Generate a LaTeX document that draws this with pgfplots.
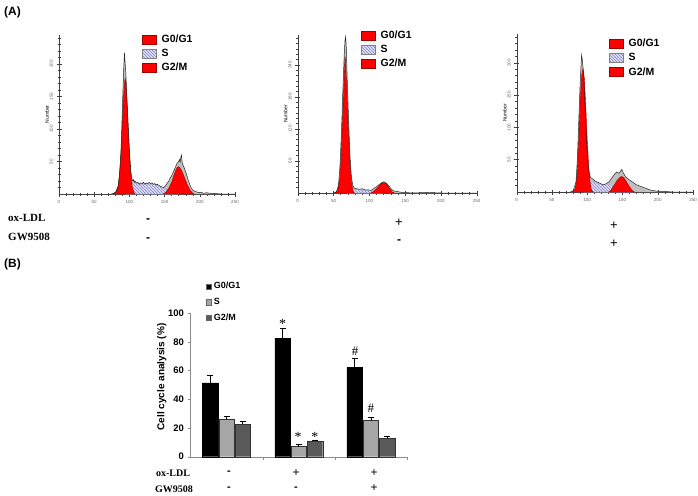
\documentclass[border=0pt]{standalone}
\usepackage{pgfplots}
\pgfplotsset{compat=1.18}
\usepackage{pgfplotstable}
\usepackage{fontspec}
\setmainfont{Liberation Sans}
\newfontfamily\tnr{Liberation Serif}
\usetikzlibrary{patterns}
\definecolor{lav}{HTML}{E2E2F4}
\definecolor{hatch}{HTML}{7E7EC8}
\definecolor{hred}{HTML}{FF0000}
\definecolor{hredd}{HTML}{A00000}
\definecolor{sgray}{HTML}{A6A6A6}
\definecolor{dgray}{HTML}{595959}

% ---------- histogram data ----------
\pgfplotstableread{
x y
74 0
78 1
81 4
84 12
86 30
88 65
89 95
90 130
91 165
92 195
93 217
94 200
95 185
96 160
97 135
98 110
99 88
100 65
101 48
102 35
103 27
104 22
105 20
106 22
107 18
108 20
110 17
112 18
114 15
116 17
118 16
120 18
122 15
124 17
126 16
128 18
130 16
132 17
134 15
136 16
138 14
140 15
142 13
144 12
146 11
148 10
150 11
152 14
154 17
156 20
158 25
160 28
162 33
164 38
166 43
168 48
170 50
171 53
172 49
173 56
174 60
175 48
176 45
178 40
180 34
182 27
184 20
186 14
188 9
190 6
193 4
196 3
199 2
202 3
205 1
210 2
215 1
220 1
230 0
240 0
250 0
}\totA
\pgfplotstableread{
x y
94 0
97 8
100 15
103 18
106 17
110 16
115 15
120 15
125 15
130 15
135 14
140 13
145 11
150 8
155 5
160 3
165 1
170 0
}\sA
\pgfplotstableread{
x y
78 0
81 3
84 12
86 30
88 62
90 110
92 155
93 172
94 178
95 172
96 155
98 110
100 65
102 32
104 12
106 3
108 0
}\gA
\pgfplotstableread{
x y
148 0
152 3
156 9
160 18
163 28
166 37
168 41
170 42
172 40
175 34
178 26
182 15
186 6
190 1
192 0
}\mA

\pgfplotstableread{
x y
50 0
54 2
57 15
59 50
61 110
63 190
65 260
66 285
67 293
68 270
69 220
71 140
73 70
75 30
77 14
79 9
82 8
86 7
90 8
94 6
98 6
102 5
105 7
108 10
111 13
114 16
117 19
120 21
122 20
125 17
128 12
131 7
134 4
138 3
142 2
146 1
150 1
160 0
180 1
200 0
250 0
}\totB
\pgfplotstableread{
x y
70 0
74 5
78 7
85 6
95 5
105 4
112 2
118 0
}\sB
\pgfplotstableread{
x y
52 0
56 5
59 30
61 80
63 150
65 220
66 256
67 245
69 180
71 110
73 55
75 20
77 5
79 0
}\gB
\pgfplotstableread{
x y
102 0
106 3
110 8
114 14
117 18
120 19.5
123 18
126 13
129 7
132 2
135 0
}\mB

\pgfplotstableread{
x y
76 0
80 2
84 15
86 50
88 110
90 170
92 212
93 205
95 180
97 130
99 80
101 45
103 28
105 22
108 20
111 17
115 15
119 13
123 11
127 13
131 16
135 22
139 28
142 31
145 29
147 32
149 35
151 30
154 24
158 20
162 17
166 14
170 11
175 9
180 7
185 5
190 3
195 2
200 1
210 1
220 0
250 0
}\totC
\pgfplotstableread{
x y
95 0
98 10
102 17
106 16
112 14
120 12
128 12
135 10
142 6
150 3
158 1
165 0
}\sC
\pgfplotstableread{
x y
79 0
83 5
86 30
88 80
90 140
92 180
94 191
96 175
98 130
100 80
102 40
104 15
106 3
108 0
}\gC
\pgfplotstableread{
x y
131 0
135 5
139 12
143 19
147 23
149 24
152 22
156 15
160 8
164 2
167 0
}\mC

% ---------- bar data ----------
\pgfplotstableread{
x y e
0 51.4 5.3
1 82.5 7.0
2 62.0 6.3
}\barG
\pgfplotstableread{
x y e
0 26.3 2.1
1 7.0 1.6
2 25.1 2.3
}\barS
\pgfplotstableread{
x y e
0 22.6 1.8
1 10.9 0.7
2 13.0 1.4
}\barM

\pgfplotsset{
  hist/.style={
    scale only axis, axis lines=left, axis line style={-, black!75},
    xmin=0, xmax=250, ymin=0, enlargelimits=false, clip=false,
    xtick={0,50,...,250}, minor xtick={10,20,...,240},
    tick align=center, major tick length=5pt, minor tick length=3pt,
    tick style={black!75, line width=0.4pt},
    /pgf/number format/assume math mode=true,
    ticklabel style={font=\fontsize{4.5}{5}\selectfont, text=black!60},
    yticklabel style={rotate=90},
    ylabel={Number},
    ylabel style={font=\fontsize{5}{6}\selectfont, anchor=center},
    legend image code/.code={\draw[##1] (0pt,-4.5pt) rectangle (14pt,4.5pt);},
    legend cell align=left,
    legend style={draw=none, fill=none, font=\fontsize{10.5}{12}\selectfont\bfseries,
      anchor=north west, inner sep=0pt, row sep=1.2pt,
      /tikz/every odd column/.append style={column sep=3pt}},
  },
}

\newcommand{\histbody}[4]{%
  \addplot[fill=black!25, draw=none, forget plot] table {#1} \closedcycle;
  \addplot[fill=lav, draw=hatch!60, line width=0.3pt, postaction={pattern=north west lines, pattern color=hatch}, forget plot] table {#2} \closedcycle;
  \addplot[fill=hred, draw=hredd, line width=0.4pt, forget plot] table {#3} \closedcycle;
  \addplot[fill=hred, draw=hredd, line width=0.4pt, forget plot] table {#4} \closedcycle;
  \addplot[draw=black!85, line width=0.5pt, forget plot] table {#1};
  \addlegendimage{fill=hred, draw=hredd}
  \addlegendentry{G0/G1}
  \addlegendimage{fill=lav, draw=black!50, postaction={pattern=north west lines, pattern color=hatch}}
  \addlegendentry{S}
  \addlegendimage{fill=hred, draw=hredd}
  \addlegendentry{G2/M}
}

\begin{document}
\begin{tikzpicture}
\path[use as bounding box] (0pt,0pt) rectangle (698pt,-495pt);
\node[anchor=west, font=\fontsize{12}{14}\selectfont\bfseries, inner sep=0pt] at (4pt,-12pt) {(A)};
\node[anchor=west, font=\fontsize{12}{14}\selectfont\bfseries, inner sep=0pt] at (4pt,-264pt) {(B)};

% histogram 1
\begin{axis}[hist, at={(59pt,-194pt)}, anchor=south west, width=176pt, height=159.25pt,
  ymax=245, ytick={50,100,150,200}, minor ytick={10,20,...,240},
  ylabel style={at={(axis description cs:-0.068,0.5)}},
  legend style={at={(axis description cs:0.4716,1.012)}}]
\histbody{\totA}{\sA}{\gA}{\mA}
\end{axis}

% histogram 2
\begin{axis}[hist, at={(297.7pt,-193pt)}, anchor=south west, width=179pt, height=157.9pt,
  ymax=296, ytick={60,120,180,240}, minor ytick={10,20,...,290},
  ylabel style={at={(axis description cs:-0.068,0.5)}},
  legend style={at={(axis description cs:0.354,1.04)}}]
\histbody{\totB}{\sB}{\gB}{\mB}
\end{axis}

% histogram 3
\begin{axis}[hist, at={(516.7pt,-192pt)}, anchor=south west, width=176.3pt, height=158.3pt,
  ymax=245, ytick={50,100,150,200}, minor ytick={10,20,...,240},
  ylabel style={at={(axis description cs:-0.068,0.5)}},
  legend style={at={(axis description cs:0.5235,0.98)}}]
\histbody{\totC}{\sC}{\gC}{\mC}
\end{axis}

% treatment labels (A)
\begin{scope}[every node/.style={inner sep=0pt}]
\node[anchor=west, font=\tnr\bfseries\fontsize{11}{12}\selectfont] at (8pt,-218pt) {ox-LDL};
\node[anchor=west, font=\tnr\bfseries\fontsize{11}{12}\selectfont] at (8pt,-237pt) {GW9508};
\node[font=\fontsize{12}{12}\selectfont\bfseries] at (148pt,-221pt) {-};
\node[font=\fontsize{12}{12}\selectfont\bfseries] at (148pt,-240pt) {-};
\node[font=\fontsize{13}{13}\selectfont] at (399pt,-223pt) {+};
\node[font=\fontsize{12}{12}\selectfont\bfseries] at (399pt,-242pt) {-};
\node[font=\fontsize{13}{13}\selectfont] at (614pt,-226pt) {+};
\node[font=\fontsize{13}{13}\selectfont] at (614pt,-244pt) {+};
\end{scope}

% panel B
\begin{axis}[at={(190.5pt,-456.7pt)}, anchor=south west, scale only axis,
  width=216.5pt, height=143.7pt,
  xmin=-0.5, xmax=2.5, ymin=0, ymax=100, enlargelimits=false, clip=false,
  axis lines=left, axis line style={-, black!45},
  xtick={0.5,1.5,2.5}, xticklabels={},
  ytick={0,20,...,100},
  tick align=outside, major tick length=3pt, tick style={black!45},
  /pgf/number format/assume math mode=true,
  yticklabel style={font=\fontsize{9.5}{10}\selectfont\bfseries},
  ylabel={Cell cycle analysis (\%)},
  ylabel style={font=\fontsize{10}{11}\selectfont\bfseries, at={(axis description cs:-0.133,0.555)}, anchor=center},
  ybar=0.7pt, bar width=15.5pt,
  legend image code/.code={\draw[#1, draw=black!60] (0pt,-2.6pt) rectangle (5.2pt,2.6pt);},
  legend cell align=left,
  legend style={draw=none, fill=none, font=\fontsize{9}{10}\selectfont\bfseries,
    at={(axis description cs:0.0716,1.228)}, anchor=north west, inner sep=0pt, row sep=3.8pt},
  error bars/y dir=plus, error bars/y explicit,
  error bars/error mark options={rotate=90, mark size=3pt, black, line width=0.6pt},
  error bars/error bar style={black, line width=0.6pt},
]
\addplot[fill=black, draw=black] table[x=x, y=y, y error=e] {\barG};
\addlegendentry{G0/G1}
\addplot[fill=sgray, draw=black!80] table[x=x, y=y, y error=e] {\barS};
\addlegendentry{S}
\addplot[fill=dgray, draw=black!80] table[x=x, y=y, y error=e] {\barM};
\addlegendentry{G2/M}
\node[font=\tnr\fontsize{14}{14}\selectfont] at (axis cs:0.778,92.5) {*};
\node[font=\tnr\fontsize{14}{14}\selectfont] at (axis cs:0.99,13.6) {*};
\node[font=\tnr\fontsize{14}{14}\selectfont] at (axis cs:1.225,13.6) {*};
\node[font=\tnr\fontsize{13}{13}\selectfont] at (axis cs:1.78,73.6) {\#};
\node[font=\tnr\fontsize{13}{13}\selectfont] at (axis cs:2.0,33.7) {\#};
\end{axis}

% treatment labels (B)
\begin{scope}[every node/.style={inner sep=0pt}]
\node[font=\tnr\bfseries\fontsize{10}{11}\selectfont] at (173pt,-473pt) {ox-LDL};
\node[font=\tnr\bfseries\fontsize{10}{11}\selectfont] at (174pt,-489.5pt) {GW9508};
\node[font=\fontsize{11}{11}\selectfont\bfseries] at (229pt,-473pt) {-};
\node[font=\fontsize{11}{11}\selectfont\bfseries] at (229pt,-489pt) {-};
\node[font=\fontsize{12}{12}\selectfont] at (296pt,-473pt) {+};
\node[font=\fontsize{11}{11}\selectfont\bfseries] at (296pt,-489pt) {-};
\node[font=\fontsize{12}{12}\selectfont] at (374pt,-473pt) {+};
\node[font=\fontsize{12}{12}\selectfont] at (374pt,-488.5pt) {+};
\end{scope}
\end{tikzpicture}
\end{document}
